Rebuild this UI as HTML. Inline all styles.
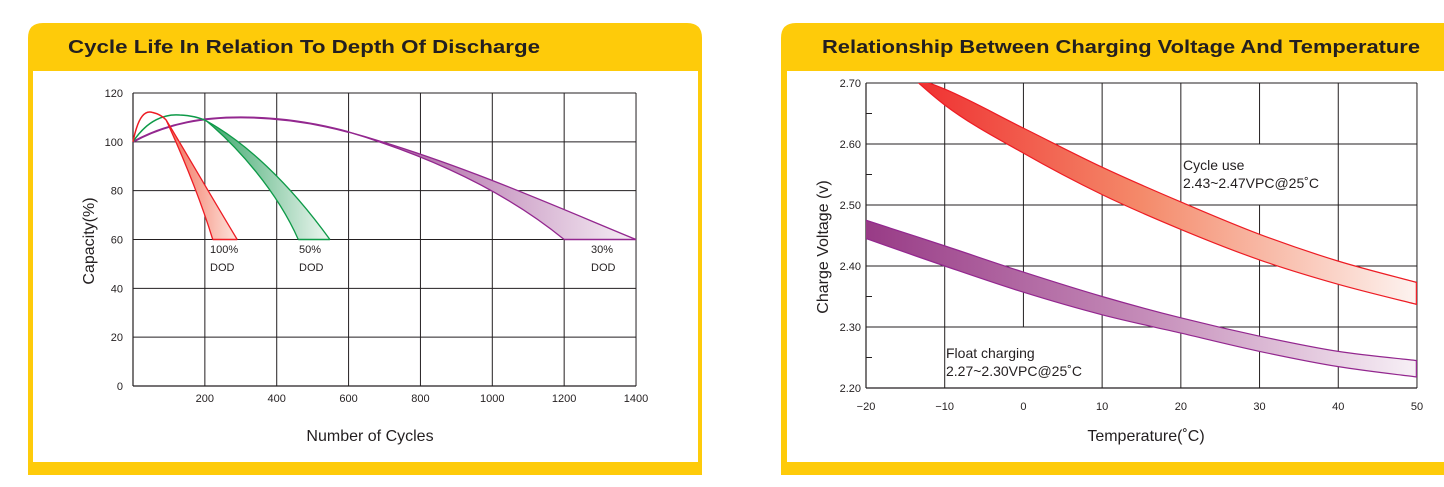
<!DOCTYPE html>
<html><head><meta charset="utf-8"><style>
html,body{margin:0;padding:0;background:#fff;width:1444px;height:487px;overflow:hidden}
svg{display:block}
text{font-family:"Liberation Sans",sans-serif;fill:#231f20}
</style></head><body>
<svg id="s" width="1444" height="487" viewBox="0 0 1444 487">
<defs>
<linearGradient id="gr" x1="0" x2="1" y1="0" y2="0"><stop offset="0" stop-color="#ee1c24"/><stop offset="0.5" stop-color="#f48a6a"/><stop offset="1" stop-color="#fdf3f0"/></linearGradient>
<linearGradient id="gp" x1="0" x2="1" y1="0" y2="0"><stop offset="0" stop-color="#983b86"/><stop offset="0.5" stop-color="#c48bb8"/><stop offset="1" stop-color="#f7f0f6"/></linearGradient>
<linearGradient id="lr" x1="0" x2="1"><stop offset="0" stop-color="#f26a55"/><stop offset="1" stop-color="#fde5dd"/></linearGradient>
<linearGradient id="lg" x1="0" x2="1"><stop offset="0" stop-color="#3aa66a"/><stop offset="1" stop-color="#eef7f1"/></linearGradient>
<linearGradient id="lp" x1="0" x2="1"><stop offset="0" stop-color="#a04c95"/><stop offset="1" stop-color="#f6eef5"/></linearGradient>
<clipPath id="rc"><rect x="866" y="83" width="551" height="305"/></clipPath>
</defs>
<path d="M28,475 V38 Q28,23 43,23 H687 Q702,23 702,38 V475 Z" fill="#fecb0a"/>
<rect x="33" y="71" width="665" height="391" fill="#fff"/>
<text x="68" y="53" font-size="18" font-weight="bold" textLength="472" lengthAdjust="spacingAndGlyphs">Cycle Life In Relation To Depth Of Discharge</text>
<path d="M781,475 V38 Q781,23 796,23 H1444 V475 Z" fill="#fecb0a"/>
<rect x="787" y="71" width="657" height="391" fill="#fff"/>
<text x="822" y="53" font-size="18" font-weight="bold" textLength="598" lengthAdjust="spacingAndGlyphs">Relationship Between Charging Voltage And Temperature</text>
<g id="L"></g><g id="R" ></g>
</svg>
<script>
const NS="http://www.w3.org/2000/svg";
function el(p,t,a,txt){const e=document.createElementNS(NS,t);for(const k in a)e.setAttribute(k,a[k]);if(txt!==undefined)e.textContent=txt;p.appendChild(e);return e;}
function cr(pts){let d="M"+pts[0][0].toFixed(2)+","+pts[0][1].toFixed(2);
for(let i=0;i<pts.length-1;i++){const p0=pts[i-1]||pts[i],p1=pts[i],p2=pts[i+1],p3=pts[i+2]||p2;
const c1=[p1[0]+(p2[0]-p0[0])/6,p1[1]+(p2[1]-p0[1])/6],c2=[p2[0]-(p3[0]-p1[0])/6,p2[1]-(p3[1]-p1[1])/6];
d+=" C"+c1.map(v=>v.toFixed(2))+" "+c2.map(v=>v.toFixed(2))+" "+p2[0].toFixed(2)+","+p2[1].toFixed(2);}return d;}
const L=document.getElementById("L");
const X=c=>133+c*0.3593, Y=v=>386-v*2.4417;
const P=(c,v)=>X(c).toFixed(2)+","+Y(v).toFixed(2);
for(let c=200;c<=1400;c+=200)el(L,"line",{x1:X(c),x2:X(c),y1:Y(120),y2:Y(0),stroke:"#231f20","stroke-width":1});
for(let v=20;v<=120;v+=20)el(L,"line",{x1:X(0),x2:X(1400),y1:Y(v),y2:Y(v),stroke:"#231f20","stroke-width":1});
el(L,"line",{x1:X(0),x2:X(0),y1:Y(120),y2:Y(0),stroke:"#231f20","stroke-width":1.2});
el(L,"line",{x1:X(0),x2:X(1400),y1:Y(0),y2:Y(0),stroke:"#231f20","stroke-width":1.2});
for(let v=0;v<=120;v+=20)el(L,"text",{x:123,y:Y(v)+4,"font-size":11,"text-anchor":"end"},v);
for(let c=200;c<=1400;c+=200)el(L,"text",{x:X(c),y:402,"font-size":11,"text-anchor":"middle"},c);
el(L,"text",{x:370,y:441,"font-size":16,"text-anchor":"middle"},"Number of Cycles");
el(L,"text",{x:0,y:0,"font-size":16,"text-anchor":"middle",transform:"translate(94,241) rotate(-90)"},"Capacity(%)");
function curve(top,outer,inner,fill,stroke,tw){
 const topD="M"+P(...top[0])+" C"+P(...top[1])+" "+P(...top[2])+" "+P(...top[3])+" C"+P(...top[4])+" "+P(...top[5])+" "+P(...top[6]);
 const oD="M"+P(...outer[0])+" C"+P(...outer[1])+" "+P(...outer[2])+" "+P(...outer[3]);
 const iD="M"+P(...inner[0])+" C"+P(...inner[1])+" "+P(...inner[2])+" "+P(...inner[3]);
 const fD=oD+" L"+P(...inner[3])+" C"+P(...inner[2])+" "+P(...inner[1])+" "+P(...inner[0])+" Z";
 el(L,"path",{d:fD,fill:fill});
 el(L,"path",{d:topD,fill:"none",stroke:stroke,"stroke-width":tw||1.5});
 el(L,"path",{d:oD,fill:"none",stroke:stroke,"stroke-width":1.3});
 el(L,"path",{d:iD,fill:"none",stroke:stroke,"stroke-width":1.3});
 el(L,"line",{x1:X(inner[3][0]),x2:X(outer[3][0]),y1:Y(60),y2:Y(60),stroke:stroke,"stroke-width":1.6});
}
curve([[0,100],[100,108],[200,110],[300,110],[400,110],[500,108],[600,104]],
 [[600,104],[900,92],[1200,72],[1400,60]],[[600,104],[850,93],[1050,78],[1200,60]],"url(#lp)","#93278f",2);
curve([[0,100],[40,109],[90,111.5],[130,111],[160,110.8],[185,110],[205,108.5]],
 [[205,108.5],[310,100],[430,84],[548,60]],[[205,108.5],[290,98],[400,80],[460,60]],"url(#lg)","#0e9a48");
curve([[0,100],[15,111],[35,113],[55,112],[70,111.5],[82,110.5],[92,109]],
 [[92,109],[130,100],[200,82],[290,60]],[[92,109],[120,100],[180,80],[222,60]],"url(#lr)","#ed1c24");
el(L,"text",{x:210,y:253,"font-size":11},"100%");el(L,"text",{x:210,y:271,"font-size":11},"DOD");
el(L,"text",{x:299,y:253,"font-size":11},"50%");el(L,"text",{x:299,y:271,"font-size":11},"DOD");
el(L,"text",{x:591,y:253,"font-size":11},"30%");el(L,"text",{x:591,y:271,"font-size":11},"DOD");
const R=document.getElementById("R");
const TX=t=>866+(t+20)*7.871, VY=v=>388-(v-2.2)*610;
const st={stroke:"#231f20","stroke-width":1};
function vl(t,a,b){el(R,"line",Object.assign({x1:TX(t),x2:TX(t),y1:VY(a),y2:VY(b)},st));}
vl(-10,2.7,2.2);vl(0,2.7,2.3);vl(10,2.7,2.2);vl(20,2.7,2.2);vl(30,2.7,2.6);vl(30,2.5,2.2);vl(40,2.7,2.2);vl(50,2.7,2.2);
[2.3,2.4,2.5,2.6,2.7].forEach(v=>el(R,"line",Object.assign({x1:TX(-20),x2:TX(50),y1:VY(v),y2:VY(v)},st)));
el(R,"line",{x1:TX(-20),x2:TX(-20),y1:VY(2.7),y2:VY(2.2),stroke:"#231f20","stroke-width":1.2});
el(R,"line",{x1:TX(-20),x2:TX(50),y1:VY(2.2),y2:VY(2.2),stroke:"#231f20","stroke-width":1.2});
[2.25,2.35,2.45,2.55,2.65].forEach(v=>el(R,"line",{x1:TX(-20),x2:TX(-20)+6,y1:VY(v),y2:VY(v),stroke:"#231f20","stroke-width":1}));
["2.20","2.30","2.40","2.50","2.60","2.70"].forEach(s=>el(R,"text",{x:861,y:VY(+s)+4,"font-size":11,"text-anchor":"end"},s));
[-20,-10,0,10,20,30,40,50].forEach(t=>el(R,"text",{x:TX(t),y:410,"font-size":11,"text-anchor":"middle"},t<0?"\u2212"+(-t):t));
el(R,"text",{x:1146,y:441,"font-size":16,"text-anchor":"middle"},"Temperature(\u02DAC)");
el(R,"text",{x:0,y:0,"font-size":16,"text-anchor":"middle",transform:"translate(828,247) rotate(-90)"},"Charge Voltage  (v)");
const RC=el(R,"g",{"clip-path":"url(#rc)"});
function rband(up,lo,fill,stroke){
 const u=up.map(p=>[TX(p[0]),VY(p[1])]), l=lo.map(p=>[TX(p[0]),VY(p[1])]);
 el(RC,"path",{d:cr(u)+" "+cr(l.slice().reverse()).replace("M","L")+" Z",fill:fill});
 el(RC,"path",{d:cr(u),fill:"none",stroke:stroke,"stroke-width":1.2});
 el(RC,"path",{d:cr(l),fill:"none",stroke:stroke,"stroke-width":1.2});
 el(RC,"line",{x1:u[u.length-1][0]-0.6,x2:u[u.length-1][0]-0.6,y1:u[u.length-1][1],y2:l[l.length-1][1],stroke:stroke,"stroke-width":1.2});
}
rband([[-20,2.735],[-10,2.69],[0,2.626],[10,2.562],[20,2.505],[30,2.452],[40,2.408],[50,2.373]],
 [[-20,2.78],[-10,2.664],[0,2.585],[10,2.517],[20,2.46],[30,2.41],[40,2.37],[50,2.337]],"url(#gr)","#ed1c24");
rband([[-20,2.475],[-10,2.433],[0,2.39],[10,2.35],[20,2.315],[30,2.285],[40,2.26],[50,2.245]],
 [[-20,2.445],[-10,2.40],[0,2.357],[10,2.32],[20,2.29],[30,2.26],[40,2.235],[50,2.218]],"url(#gp)","#93278f");
el(R,"text",{x:1183,y:170,"font-size":14},"Cycle use");
el(R,"text",{x:1183,y:188,"font-size":14},"2.43~2.47VPC@25\u02DAC");
el(R,"text",{x:946,y:358,"font-size":14},"Float charging");
el(R,"text",{x:946,y:376,"font-size":14},"2.27~2.30VPC@25\u02DAC");
</script>
</body></html>
